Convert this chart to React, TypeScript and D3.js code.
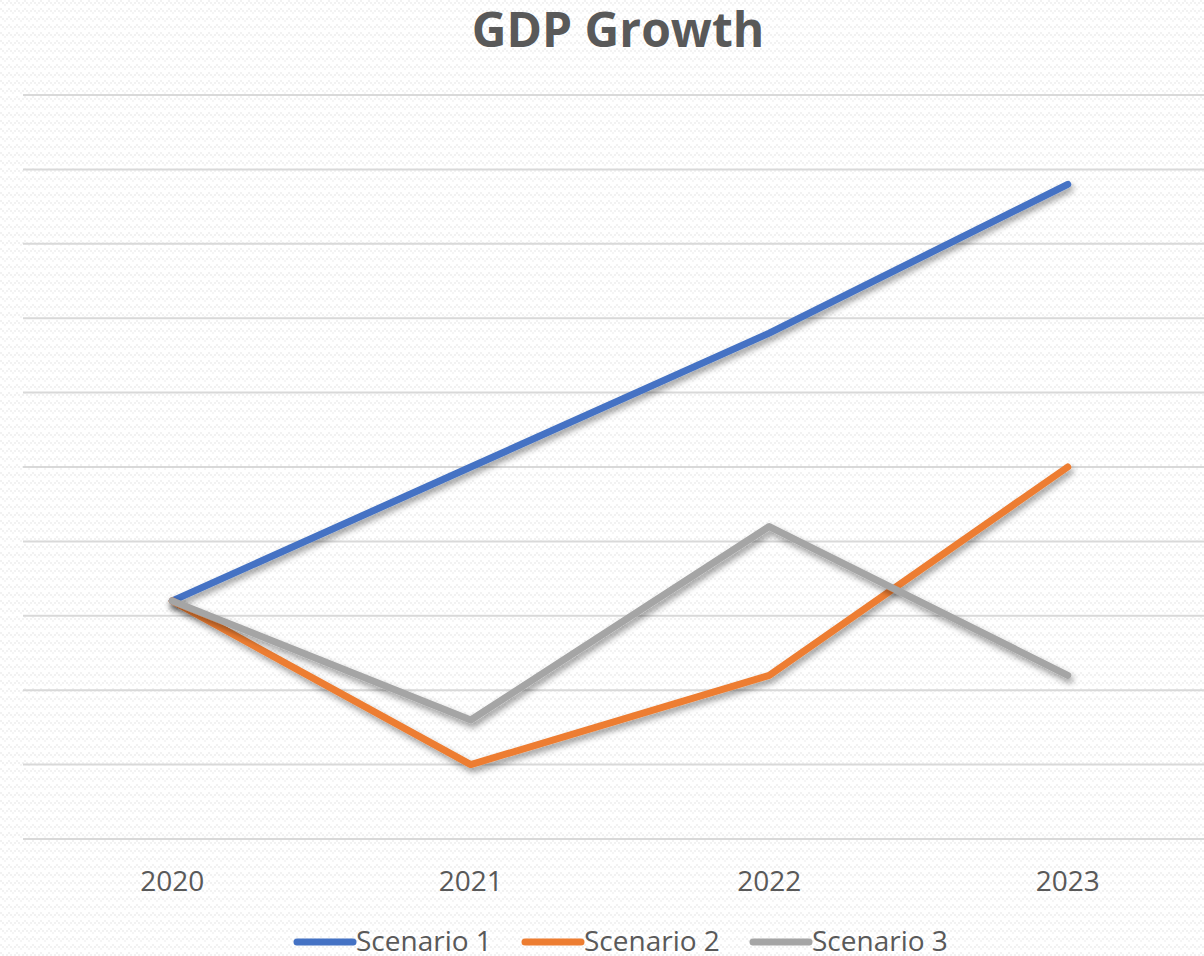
import React from "react";
import * as d3 from "d3";

const years = ["2020", "2021", "2022", "2023"];
const scenario1 = [2.2, 4.0, 5.8, 7.8];
const scenario2 = [2.2, 0.0, 1.2, 4.0];
const scenario3 = [2.2, 0.6, 3.2, 1.2];
const seriesNames = ["Scenario 1", "Scenario 2", "Scenario 3"];
const seriesColors = ["#4472C4", "#ED7D31", "#A5A5A5"];
const yTicks = [-1, 0, 1, 2, 3, 4, 5, 6, 7, 8, 9];

const W = 1204;
const H = 956;
const FONT = "'Open Sans', 'Noto Sans', sans-serif";

export default function App() {
  const allSeries = [scenario1, scenario2, scenario3];
  const x = d3.scaleBand<string>().domain(years).range([23, 23 + 4 * 298.5]).padding(0);
  const y = d3.scaleLinear().domain([-1, 9]).range([839, 95]);
  const cx = (d: string) => (x(d) as number) + x.bandwidth() / 2;
  const line = d3
    .line<number>()
    .x((_, i) => cx(years[i]))
    .y((v) => y(v));

  const legendItems = [
    { lx: 297, tx: 356 },
    { lx: 525, tx: 584 },
    { lx: 753, tx: 812 },
  ];

  return (
    <svg width={W} height={H} style={{ position: "absolute", left: 0, top: 0 }}>
      <defs>
        <pattern id="bg" width="8" height="8" patternUnits="userSpaceOnUse">
          <rect width="8" height="8" fill="#ffffff" />
          <rect x="0" y="0" width="2" height="2" fill="#f2f2f2" />
          <rect x="2" y="2" width="2" height="2" fill="#f2f2f2" />
          <rect x="4" y="4" width="2" height="2" fill="#f5f5f5" />
          <rect x="6" y="2" width="2" height="2" fill="#f2f2f2" />
        </pattern>
        <filter id="shadow" x="-10%" y="-10%" width="120%" height="130%">
          <feDropShadow dx="2" dy="4" stdDeviation="3" floodColor="#000" floodOpacity="0.4" />
        </filter>
      </defs>
      <rect width={W} height={H} fill="url(#bg)" />
      <text
        x={618}
        y={47}
        textAnchor="middle"
        fontFamily={FONT}
        fontWeight={700}
        fontSize={48}
        fill="#595959"
      >
        GDP Growth
      </text>
      {yTicks.map((t) => (
        <line key={t} x1={23} x2={W} y1={y(t)} y2={y(t)} stroke="#d9d9d9" strokeWidth={2} />
      ))}
      {years.map((yr) => (
        <text
          key={yr}
          x={cx(yr)}
          y={891}
          textAnchor="middle"
          fontFamily={FONT}
          fontSize={28}
          fill="#595959"
        >
          {yr}
        </text>
      ))}
      {allSeries.map((s, i) => (
        <path
          key={i}
          d={line(s) as string}
          fill="none"
          stroke={seriesColors[i]}
          strokeWidth={7}
          strokeLinecap="round"
          strokeLinejoin="round"
          filter="url(#shadow)"
        />
      ))}
      {seriesNames.map((n, i) => (
        <g key={n}>
          <line
            x1={legendItems[i].lx}
            x2={legendItems[i].lx + 56}
            y1={942}
            y2={942}
            stroke={seriesColors[i]}
            strokeWidth={7}
            strokeLinecap="round"
          />
          <text
            x={legendItems[i].tx}
            y={951}
            fontFamily={FONT}
            fontSize={28}
            fill="#595959"
          >
            {n}
          </text>
        </g>
      ))}
    </svg>
  );
}
